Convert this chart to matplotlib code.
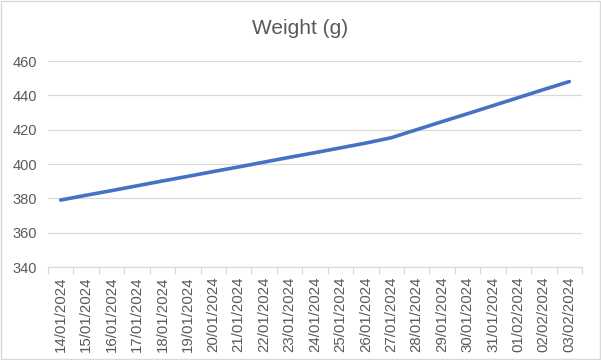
import numpy as np
import matplotlib
matplotlib.use("Agg")
import matplotlib.pyplot as plt
from matplotlib.patches import Rectangle

plt.rcParams['font.family'] = ['Liberation Sans', 'DejaVu Sans']

# Data
dates = ['14/01/2024', '15/01/2024', '16/01/2024', '17/01/2024', '18/01/2024',
         '19/01/2024', '20/01/2024', '21/01/2024', '22/01/2024', '23/01/2024',
         '24/01/2024', '25/01/2024', '26/01/2024', '27/01/2024', '28/01/2024',
         '29/01/2024', '30/01/2024', '31/01/2024', '01/02/2024', '02/02/2024',
         '03/02/2024']
weight = [379.0, 381.8, 384.5, 387.3, 390.1, 392.8, 395.6, 398.3, 401.1, 403.9,
          406.6, 409.4, 412.2, 415.3, 420.0, 424.7, 429.3, 434.0, 438.7, 443.4,
          448.0]

grey = '#595959'

fig = plt.figure(figsize=(6.01, 3.6), dpi=100)
ax = fig.add_axes([48 / 601, 1 - 267 / 360, 534 / 601, 206 / 360])

x = np.arange(len(dates))
ax.plot(x, weight, color='#4472C4', lw=2.6, solid_capstyle='round')

ax.set_xlim(-0.5, len(dates) - 0.5)
ax.set_ylim(340, 460)
ax.set_yticks(np.arange(340, 461, 20))
ax.grid(axis='y', color='#d9d9d9', lw=0.9)
ax.set_axisbelow(True)

ax.set_xticks(x)
ax.set_xticklabels(dates, rotation=90)
ax.set_xticks(np.arange(-0.5, len(dates)), minor=True)
ax.tick_params(axis='x', which='major', length=0, pad=7, labelsize=10.8, labelcolor=grey)
ax.tick_params(axis='x', which='minor', length=5, color='#d9d9d9', width=0.9)
ax.tick_params(axis='y', length=0, pad=8, labelsize=10.5, labelcolor=grey)

for s in ['top', 'right', 'left']:
    ax.spines[s].set_visible(False)
ax.spines['bottom'].set_color('#d9d9d9')
ax.spines['bottom'].set_linewidth(0.9)

fig.text(0.5, 1 - 28 / 360, 'Weight (g)', ha='center', va='center',
         fontsize=15, color=grey)

# light border round the chart, as in Excel
fig.patches.append(Rectangle((0.001, 0.002), 0.997, 0.995, transform=fig.transFigure,
                             fill=False, edgecolor='#d9d9d9', lw=1))

fig.savefig('out.png', dpi=100)
